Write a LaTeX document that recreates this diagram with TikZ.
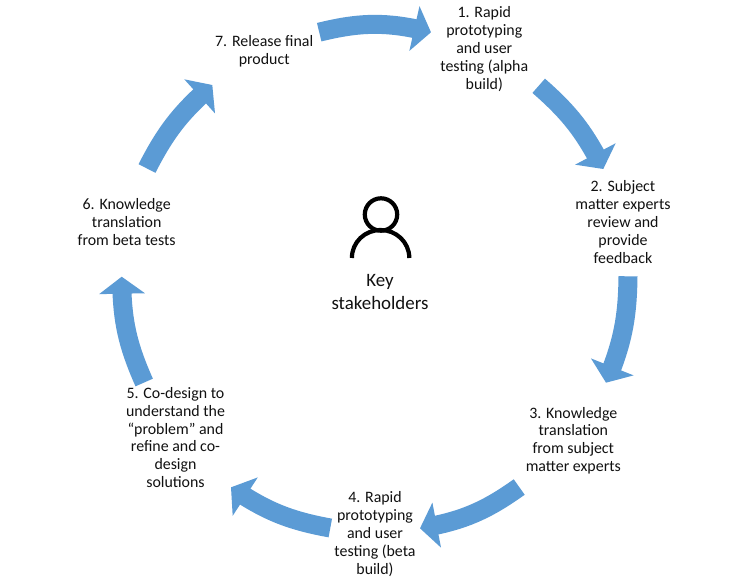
\documentclass[tikz,border=0pt]{standalone}
\usepackage{fontspec}
\setmainfont{Carlito}
\usetikzlibrary{arrows.meta,bending}
\definecolor{flowblue}{HTML}{5B9BD5}
\definecolor{ink}{HTML}{111111}
\tikzset{
  label text/.style={inner sep=0pt,align=center,text=ink,font=\fontsize{15.9}{17.8}\selectfont},
  key text/.style={inner sep=0pt,align=center,text=ink,font=\fontsize{18.9}{23}\selectfont},
  flow/.style={draw=flowblue,line width=19pt,-{Triangle[width=45pt,length=17pt,fill=flowblue,color=flowblue]}},
  icon/.style={draw=black,line width=4.2pt}
}
\begin{document}
\begin{tikzpicture}[x=1pt,y=-1pt]
\useasboundingbox (0,0) rectangle (750,581);
\fill[white] (0,0) rectangle (750,581);
% labels
\node[label text] (n1) at (484.3,49) {1. Rapid\\prototyping\\and user\\testing (alpha\\build)};
\node[label text] (n2) at (623,222) {2. Subject\\matter experts\\review and\\provide\\feedback};
\node[label text] (n3) at (573.3,440.5) {3. Knowledge\\translation\\from subject\\matter experts};
\node[label text] (n4) at (375,534) {4. Rapid\\prototyping\\and user\\testing (beta\\build)};
\node[label text] (n5) at (175.5,437.5) {5. Co-design to\\understand the\\“problem” and\\refine and co-\\design\\solutions};
\node[label text] (n6) at (126.7,222) {6. Knowledge\\translation\\from beta tests};
\node[label text] (n7) at (264.2,51) {7. Release final\\product};
\node[key text] (key) at (380,292.5) {Key\\stakeholders};
% arrow ends
\coordinate (a1s) at (319.2,32.2); \coordinate (a1e) at (431,32.3);
\coordinate (a2s) at (538.7,85.8); \coordinate (a2e) at (603.3,169);
\coordinate (a3s) at (628,276.3); \coordinate (a3e) at (606,382.7);
\coordinate (a4s) at (519.2,487); \coordinate (a4e) at (420,528.3);
\coordinate (a5s) at (330.3,528); \coordinate (a5e) at (231,487.3);
\coordinate (a6s) at (144.2,382.5); \coordinate (a6e) at (121.7,276.7);
\coordinate (a7s) at (147,168.5); \coordinate (a7e) at (212.3,85);
\draw[flow] (a1s) to[bend left=14] (a1e);
\draw[flow] (a2s) to[bend left=11] (a2e);
\draw[flow] (a3s) to[bend left=11] (a3e);
\draw[flow] (a4s) to[bend left=13] (a4e);
\draw[flow] (a5s) to[bend left=12] (a5e);
\draw[flow] (a6s) to[bend left=12] (a6e);
\draw[flow] (a7s) to[bend left=11] (a7e);
% person icon
\draw[icon] (381,214.5) circle (16.2);
\draw[icon] (351.9,258) .. controls (351.9,242) and (365,230) .. (380.6,230) .. controls (396,230) and (409.3,242) .. (409.3,258);
\end{tikzpicture}
\end{document}
